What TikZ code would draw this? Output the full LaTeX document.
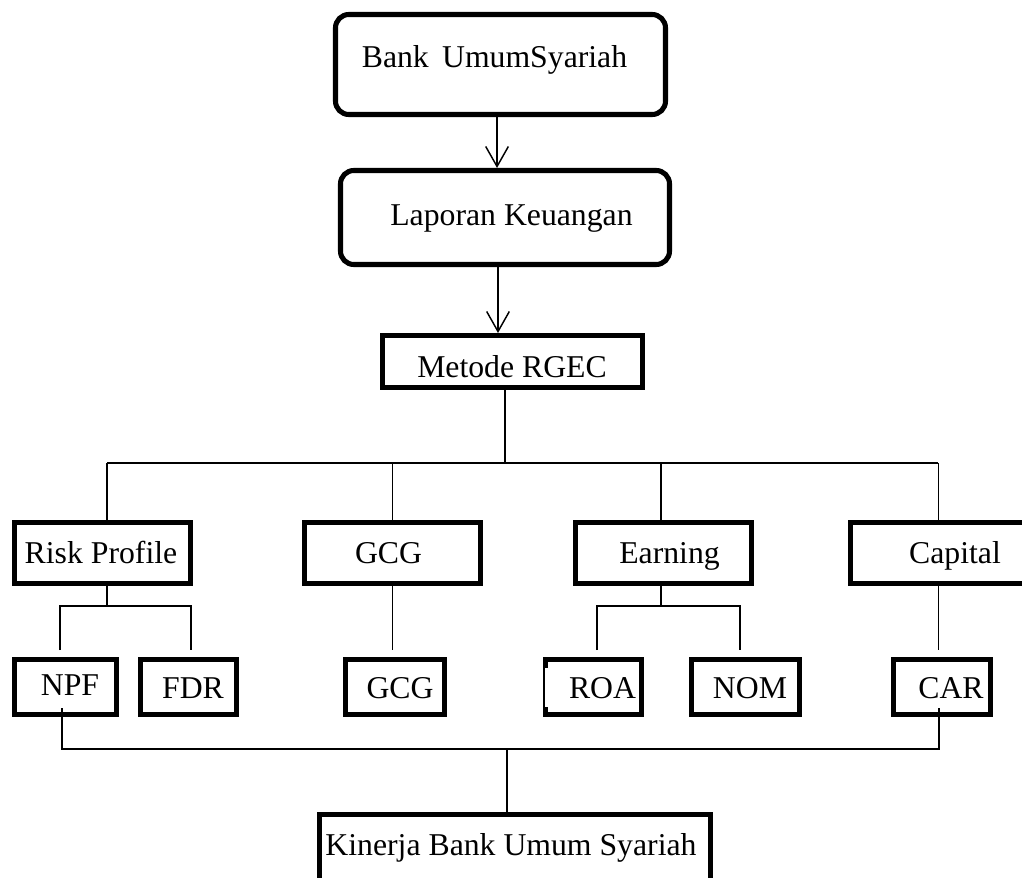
\documentclass[tikz,border=0pt]{standalone}
\usepackage{fontspec}
\setmainfont{Liberation Serif}
\usetikzlibrary{arrows.meta}
\begin{document}
\begin{tikzpicture}[x=0.75pt,y=-0.75pt,
  conn/.style={line width=1.4pt},
  arr/.style={conn,-{Straight Barb[length=15pt,width=17pt,line width=1.1pt]}},
  rbox/.style={draw,line width=3.8pt,rounded corners=10pt,inner sep=0pt},
  sbox/.style={draw,line width=3.8pt,inner sep=0pt},
  txt/.style={anchor=base,inner sep=0pt,font=\fontsize{23.8}{28}\selectfont}]
\useasboundingbox (0,0) rectangle (1022,878);
\clip (0,0) rectangle (1022,878);
% boxes
\node[rbox,minimum width=247.5pt,minimum height=75pt] (b1) at (500.5,64.5) {};
\node[rbox,minimum width=246.75pt,minimum height=70.5pt] (b2) at (505,217.5) {};
\node[sbox,minimum width=195pt,minimum height=39pt] (b3) at (512.5,361.5) {};
\node[sbox,minimum width=132pt,minimum height=45.75pt] (rp) at (102.5,553) {};
\node[sbox,minimum width=132pt,minimum height=45.75pt] (gcg) at (392.5,553) {};
\node[sbox,minimum width=132pt,minimum height=45.75pt] (earn) at (663.5,553) {};
\node[sbox,minimum width=132pt,minimum height=45.75pt] (cap) at (938.5,553) {};
\node[sbox,minimum width=76.5pt,minimum height=41.25pt] (npf) at (65.5,687) {};
\node[sbox,minimum width=72pt,minimum height=41.25pt] (fdr) at (188.5,687) {};
\node[sbox,minimum width=74.25pt,minimum height=41.25pt] (gcgb) at (395,687) {};
\node[sbox,minimum width=72pt,minimum height=41.25pt] (roa) at (593.5,687) {};
\node[sbox,minimum width=81pt,minimum height=41.25pt] (nom) at (745.5,687) {};
\node[sbox,minimum width=72.75pt,minimum height=41.25pt] (car) at (942,687) {};
\node[sbox,minimum width=293.25pt,minimum height=66pt] (kin) at (515,858.5) {};
% thin middle part of the left edge of ROA
\fill[white] (542,668) rectangle (549,707);
\draw[line width=0.8pt] (544,667) -- (544,708);
% texts
\node[txt] (t1) at (494.5,67) {Bank\hspace{4pt} UmumSyariah};
\node[txt] (t2) at (511.5,225) {Laporan Keuangan};
\node[txt] (t3) at (512,377) {Metode RGEC};
\node[txt] (trp) at (101,563) {Risk Profile};
\node[txt] (tgcg) at (388.5,563) {GCG};
\node[txt] (tearn) at (669.5,563) {Earning};
\node[txt] (tcap) at (955,563) {Capital};
\node[txt] (tnpf) at (70,695) {NPF};
\node[txt] (tfdr) at (193,698) {FDR};
\node[txt] (tgcgb) at (400,698) {GCG};
\node[txt] (troa) at (602.5,698) {ROA};
\node[txt] (tnom) at (750,698) {NOM};
\node[txt] (tcar) at (951,698) {CAR};
\node[txt] (tkin) at (511,855) {Kinerja Bank Umum Syariah};
% arrows
\draw[arr] ([xshift=-2.6pt]b1.south) -- ([xshift=-2.6pt]b1.south |- b2.north);
\draw[arr] ([xshift=-5.25pt]b2.south) -- ([xshift=-5.25pt]b2.south |- b3.north);
% bus
\coordinate (busL) at (107,463);
\coordinate (busR) at (938,463);
\draw[conn] ([xshift=-5.6pt]b3.south) -- ([xshift=-5.6pt]b3.south |- busL);
\draw[conn] (busL) -- (busR);
\draw[conn] (busL) -- (busL |- rp.north);
\draw[conn] (gcg.north) -- (gcg.north |- busL);
\draw[conn] ([xshift=-1.9pt]earn.north) -- ([xshift=-1.9pt]earn.north |- busL);
\draw[conn] (cap.north) -- (cap.north |- busL);
% sub branches
\coordinate (rpj) at (107,606);
\coordinate (rpl) at (60,606);
\coordinate (rpr) at (191,606);
\coordinate (npfT) at (60,650);
\coordinate (fdrT) at (191,650);
\draw[conn] (rpj |- rp.south) -- (rpj);
\draw[conn] (npfT) -- (rpl) -- (rpr) -- (fdrT);
\draw[conn] (gcg.south) -- (gcg.south |- npfT);
\coordinate (ej) at (661,606);
\coordinate (el) at (597,606);
\coordinate (er) at (740,606);
\coordinate (roaT) at (597,650);
\coordinate (nomT) at (740,650);
\draw[conn] (ej |- earn.south) -- (ej);
\draw[conn] (roaT) -- (el) -- (er) -- (nomT);
\draw[conn] (cap.south) -- (cap.south |- npfT);
% bottom
\coordinate (nb) at (62,708);
\coordinate (cb) at (939,708);
\coordinate (bl) at (62,749);
\coordinate (br) at (939,749);
\coordinate (bm) at (507,749);
\draw[conn] (nb) -- (bl) -- (br) -- (cb);
\draw[conn] (bm) -- (bm |- kin.north);
\end{tikzpicture}
\end{document}
